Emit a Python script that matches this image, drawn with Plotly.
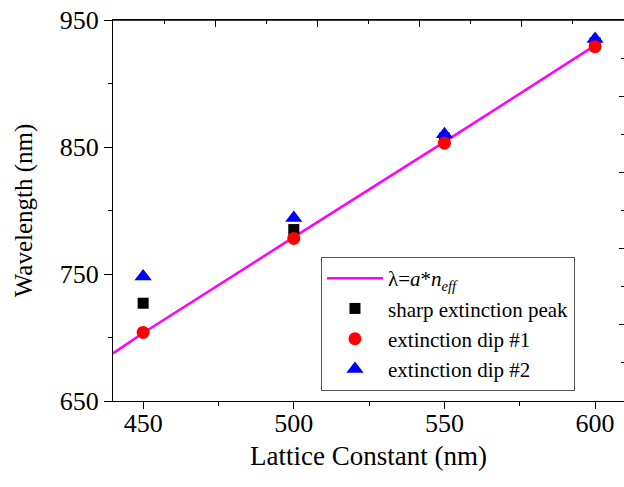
import plotly.graph_objects as go

# Data
lattice = [450, 500, 550, 600]
sharp_peak = [727, 785, 857, 932]
dip1 = [704, 778, 853, 929]
dip2 = [748, 794, 860, 935]

fit_lattice = [440, 450, 500, 550, 600]
fit_wavelength = [687.5, 703.5, 779, 854, 930]

FONT = "Liberation Serif, Times New Roman, serif"

fig = go.Figure()

fig.add_trace(go.Scatter(
    x=fit_lattice, y=fit_wavelength, mode="lines",
    line=dict(color="#FF00FF", width=2.5),
    name="λ=<i>a</i>*<i>n</i><sub><i>eff</i></sub>", legendrank=1,
))
fig.add_trace(go.Scatter(
    x=lattice, y=sharp_peak, mode="markers",
    marker=dict(symbol="square", color="black", size=11),
    name="sharp extinction peak", legendrank=2,
))
fig.add_trace(go.Scatter(
    x=lattice, y=dip2, mode="markers",
    marker=dict(symbol="triangle-up", color="#0000FF", size=15),
    name="extinction dip #2", legendrank=4,
))
fig.add_trace(go.Scatter(
    x=lattice, y=dip1, mode="markers",
    marker=dict(symbol="circle", color="#FF0000", size=13),
    name="extinction dip #1", legendrank=3,
))

# invisible trace to activate the secondary (top / right) axes
fig.add_trace(go.Scatter(
    x=[0, 5], y=[0, 5], xaxis="x2", yaxis="y2", mode="markers",
    marker=dict(opacity=0), showlegend=False, hoverinfo="skip",
))

# top frame edge
fig.add_shape(type="line", xref="paper", yref="paper", x0=0, x1=1, y0=1, y1=1,
              line=dict(color="black", width=1.5), layer="above")

fig.update_layout(
    width=624, height=487,
    margin=dict(l=113, r=0, t=20, b=86),
    paper_bgcolor="white", plot_bgcolor="white",
    font=dict(family=FONT, color="black", size=24),
    showlegend=True,
    legend=dict(
        x=0.407, y=0.378, xanchor="left", yanchor="top",
        bordercolor="#555555", borderwidth=1, bgcolor="white",
        font=dict(family=FONT, size=21, color="black"),
        tracegroupgap=0, itemwidth=56,
    ),
    xaxis=dict(
        range=[440, 609.6], tickmode="linear", tick0=450, dtick=50,
        ticks="outside", ticklen=7, tickwidth=1.3, tickcolor="black",
        showline=True, linecolor="black", linewidth=1.3, mirror=True,
        showgrid=False, zeroline=False, automargin=False,
        ticklabeloverflow="allow", ticklabelstandoff=-8,
        minor=dict(ticks="outside", ticklen=4, dtick=25, tick0=450, tickcolor="black", showgrid=False),
        title=dict(text="Lattice Constant (nm)", font=dict(size=27), standoff=8),
        tickfont=dict(size=26),
    ),
    yaxis=dict(
        range=[650, 950], tickmode="linear", tick0=650, dtick=100,
        ticks="outside", ticklen=8, tickwidth=1.3, tickcolor="black",
        showline=True, linecolor="black", linewidth=1.3,
        showgrid=False, zeroline=False, automargin=False,
        ticklabeloverflow="allow",
        minor=dict(ticks="outside", ticklen=4, dtick=50, tick0=650, tickcolor="black", showgrid=False),
        title=dict(text="Wavelength (nm)", font=dict(size=25), standoff=19),
        tickfont=dict(size=26),
    ),
    xaxis2=dict(
        overlaying="x", side="top", anchor="y2", range=[0, 5],
        tickmode="linear", tick0=0, dtick=1,
        ticks="inside", ticklen=7, tickwidth=1.3, tickcolor="black",
        showticklabels=False, showline=True, linecolor="black", linewidth=1.3,
        showgrid=False, zeroline=False, automargin=False,
        minor=dict(ticks="inside", ticklen=4, dtick=0.5, tickcolor="black", showgrid=False),
    ),
    yaxis2=dict(
        overlaying="y", side="right", anchor="x2", range=[0, 5],
        tickmode="linear", tick0=0, dtick=1,
        ticks="inside", ticklen=5, tickwidth=1.3, tickcolor="black",
        showticklabels=False, showline=False,
        showgrid=False, zeroline=False, automargin=False,
        minor=dict(ticks="inside", ticklen=3, dtick=0.5, tickcolor="black", showgrid=False),
    ),
)

fig.write_html("out.html", config={"displayModeBar": False},
               post_script="document.body.style.margin='0';")
